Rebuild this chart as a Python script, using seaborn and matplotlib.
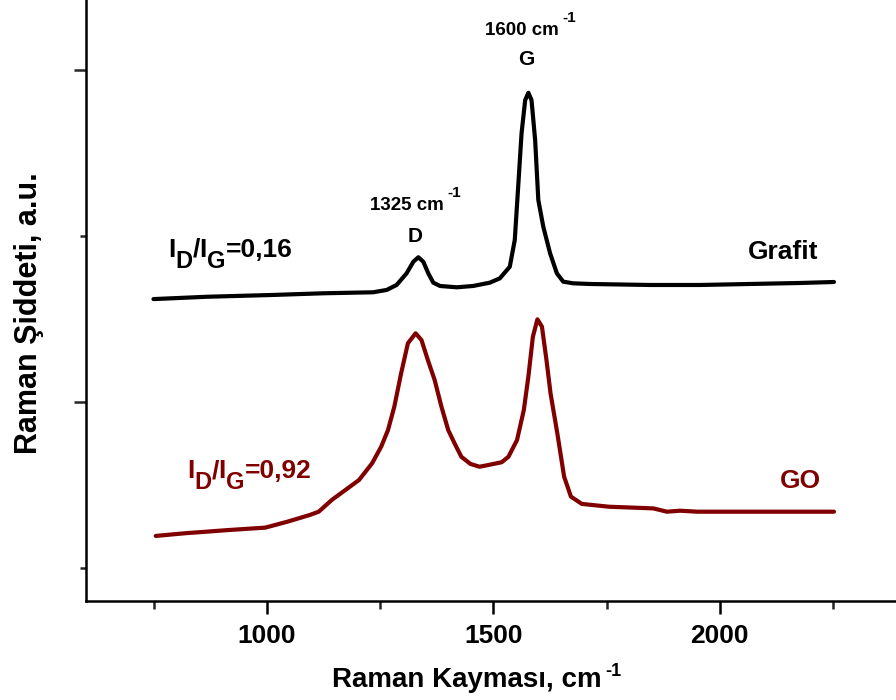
import numpy as np
import pandas as pd
import matplotlib
matplotlib.use("Agg")
import matplotlib.pyplot as plt
import seaborn as sns

# ---------------- data ----------------
grafit_x = [749, 867, 1014, 1124, 1234, 1264, 1286, 1308, 1323, 1334, 1345, 1356,
            1367, 1382, 1419, 1455, 1492, 1514, 1536, 1547, 1555, 1562, 1570, 1577,
            1584, 1592, 1599, 1610, 1625, 1640, 1654, 1676, 1713, 1845, 1956, 2066,
            2177, 2252]
grafit_y = [1620, 1634, 1645, 1655, 1661, 1675, 1705, 1775, 1845, 1872, 1845, 1775,
            1719, 1699, 1691, 1699, 1719, 1745, 1815, 1976, 2317, 2619, 2819, 2863,
            2819, 2578, 2217, 2056, 1896, 1775, 1725, 1715, 1711, 1705, 1705, 1711,
            1717, 1723]

go_x = [754, 818, 917, 996, 1045, 1094, 1114, 1143, 1173, 1203, 1232, 1252, 1267,
        1281, 1296, 1311, 1328, 1341, 1355, 1370, 1385, 1400, 1414, 1429, 1449,
        1469, 1488, 1518, 1533, 1552, 1567, 1577, 1587, 1597, 1607, 1617, 1626,
        1641, 1656, 1671, 1695, 1755, 1853, 1883, 1912, 1951, 2252]
go_y = [193, 209, 229, 243, 279, 319, 339, 410, 470, 530, 631, 731, 831, 972, 1173,
        1354, 1414, 1373, 1253, 1133, 972, 831, 751, 670, 627, 610, 620, 637, 670,
        771, 952, 1152, 1393, 1498, 1454, 1253, 1052, 811, 550, 430, 386, 369, 359,
        339, 345, 339, 339]

x_major = [1000, 1500, 2000]
x_minor = [750, 1250, 1750, 2250]
y_major = [1000, 3000]
y_minor = [0, 2000]

# ---------------- style ----------------
sns.set_theme(style="ticks")
plt.rcParams["font.family"] = ["Liberation Sans", "DejaVu Sans"]
plt.rcParams["font.weight"] = "bold"

BLACK = "#000000"
MAROON = "#800000"

fig = plt.figure(figsize=(8.96, 7.0), dpi=100)
fig.patch.set_facecolor("white")
ax = fig.add_axes([86 / 896, 1 - 601 / 700, 1 - 86 / 896, 601 / 700])
ax.set_facecolor("white")

df_g = pd.DataFrame({"x": grafit_x, "y": grafit_y})
df_o = pd.DataFrame({"x": go_x, "y": go_y})
sns.lineplot(data=df_g, x="x", y="y", ax=ax, color=BLACK, lw=3.0, sort=False,
             estimator=None)
sns.lineplot(data=df_o, x="x", y="y", ax=ax, color=MAROON, lw=3.0, sort=False,
             estimator=None)

ax.set_xlim(600, 2389)
ax.set_ylim(-199, 3422)
ax.set_xticks(x_major)
ax.set_xticks(x_minor, minor=True)
ax.set_xticklabels([str(v) for v in x_major])
ax.set_yticks(y_major)
ax.set_yticks(y_minor, minor=True)
ax.set_yticklabels([])

sns.despine(ax=ax)
for s in ["left", "bottom"]:
    ax.spines[s].set_linewidth(1.8)
    ax.spines[s].set_color("black")

ax.tick_params(axis="x", which="major", direction="out", length=9.5, width=1.8,
               pad=7, labelsize=19, colors="black")
ax.tick_params(axis="x", which="minor", direction="out", length=5.5, width=1.8)
ax.tick_params(axis="y", which="major", direction="out", length=9, width=1.8)
ax.tick_params(axis="y", which="minor", direction="out", length=4.5, width=1.8)
for lab in ax.get_xticklabels():
    lab.set_fontweight("bold")

ax.set_xlabel("Raman Kayması, cm", fontsize=20, fontweight="bold", color="black")
ax.xaxis.set_label_coords(0.470, -0.11)
ax.annotate("-1", xy=(1, 1), xycoords=ax.xaxis.label, xytext=(3, 3),
            textcoords="offset points", ha="left", va="top", fontsize=13,
            fontweight="bold", color="black", annotation_clip=False)

ax.set_ylabel("Raman Şiddeti, a.u.", fontsize=22, fontweight="bold", color="black")
ax.yaxis.set_label_coords(-0.0514, 0.479)


def chain_text(x, y, pieces, color):
    """pieces: list of (text, size, dx_pts, dy_pts) ; dy relative to base line"""
    txt, size, _, _ = pieces[0]
    prev = ax.text(x, y, txt, fontsize=size, color=color, fontweight="bold",
                   ha="left", va="baseline")
    prev_dy = 0
    for txt, size, dx, dy in pieces[1:]:
        prev = ax.annotate(txt, xy=(1, 0), xycoords=prev,
                           xytext=(dx, dy - prev_dy), textcoords="offset points",
                           fontsize=size, color=color, fontweight="bold",
                           ha="left", va="bottom", annotation_clip=False)
        prev_dy = dy
    return prev


ratio_pieces_g = [("I", 19, 0, 0), ("D", 17, 0, -8), ("/", 19, 0, 0),
                  ("I", 19, 0, 0), ("G", 17, 0, -8), ("=0,16", 19, 0, 0)]
ratio_pieces_o = [("I", 19, 0, 0), ("D", 17, 0, -8), ("/", 19, 0, 0),
                  ("I", 19, 0, 0), ("G", 17, 0, -8), ("=0,92", 19, 0, 0)]
chain_text(781, 1875, ratio_pieces_g, BLACK)
chain_text(823, 542, ratio_pieces_o, MAROON)

chain_text(1227, 2157, [("1325 cm", 13.5, 0, 0), ("-1", 11, 3, 10)], BLACK)
chain_text(1481, 3211, [("1600 cm", 13.5, 0, 0), ("-1", 11, 3, 10)], BLACK)

ax.text(1327, 1964, "D", fontsize=15, fontweight="bold", color=BLACK,
        ha="center", va="baseline")
ax.text(1573, 3030, "G", fontsize=15, fontweight="bold", color=BLACK,
        ha="center", va="baseline")

ax.text(2062, 1860, "Grafit", fontsize=19, fontweight="bold", color=BLACK,
        ha="left", va="baseline")
ax.text(2132, 482, "GO", fontsize=19, fontweight="bold", color=MAROON,
        ha="left", va="baseline")

fig.savefig("out.png", dpi=100, facecolor="white")
